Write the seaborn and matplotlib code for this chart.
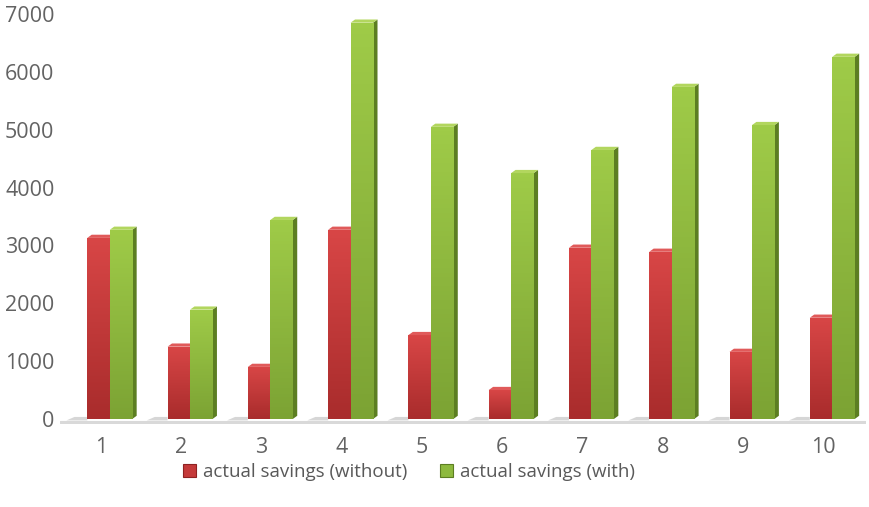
import numpy as np
import pandas as pd
import matplotlib
matplotlib.use("Agg")
import matplotlib.pyplot as plt
from matplotlib.patches import Polygon, Patch
from matplotlib.colors import LinearSegmentedColormap
import seaborn as sns

# Data
categories = ["1", "2", "3", "4", "5", "6", "7", "8", "9", "10"]
savings_without = [3130, 1250, 900, 3270, 1450, 500, 2960, 2890, 1160, 1750]
savings_with = [3270, 1890, 3440, 6850, 5050, 4250, 4650, 5740, 5080, 6260]
series_names = ["actual savings (without)", "actual savings (with)"]
y_ticks = [0, 1000, 2000, 3000, 4000, 5000, 6000, 7000]

df = pd.DataFrame({
    "case": categories * 2,
    "value": savings_without + savings_with,
    "series": [series_names[0]] * len(categories) + [series_names[1]] * len(categories),
})

sns.set_theme(style="white")
plt.rcParams["font.family"] = ["Open Sans", "DejaVu Sans"]

# Front / top / side shades per series
front_top = {series_names[0]: "#D84646", series_names[1]: "#9FCB48"}
front_bot = {series_names[0]: "#A92C2C", series_names[1]: "#7CA334"}
side_col = {series_names[0]: "#8E2222", series_names[1]: "#5C7E22"}
lid_col = {series_names[0]: "#E05A5A", series_names[1]: "#B2D65E"}
palette = {series_names[0]: "#C43A3A", series_names[1]: "#8DB93E"}

fig = plt.figure(figsize=(8.7, 5.07), dpi=100)
ax = fig.add_axes([60 / 870, (507 - 423.6) / 507, 806 / 870, (423.6 - 14) / 507])

sns.barplot(data=df, x="case", y="value", hue="series", order=categories,
            hue_order=series_names, palette=palette, width=0.56,
            saturation=1, legend=False, ax=ax, zorder=3)

shift = 0.11      # perspective offset of the columns
dx = 0.055        # depth of the side face (category units)
dy = 55           # depth of the top face (value units)

bars = list(ax.patches)
n = len(categories)
for i, p in enumerate(bars):
    s = series_names[i // n]
    p.set_x(p.get_x() + shift)
    x, w, h = p.get_x(), p.get_width(), p.get_height()
    z = 3 + i // n
    p.set_zorder(z)
    p.set_edgecolor("none")
    # vertical gradient on the front face
    cmap = LinearSegmentedColormap.from_list("g", [front_bot[s], front_top[s]])
    grad = np.linspace(0, 1, 64).reshape(-1, 1)
    im = ax.imshow(grad, cmap=cmap, extent=[x, x + w, 0, h], origin="lower",
                   aspect="auto", zorder=z + 0.1)
    im.set_clip_path(p)
    # right side face
    ax.add_patch(Polygon([(x + w, 0), (x + w + dx, dy), (x + w + dx, h + dy), (x + w, h)],
                         closed=True, facecolor=side_col[s], edgecolor="none", zorder=z + 0.05))
    # top face
    ax.add_patch(Polygon([(x, h), (x + dx, h + dy), (x + w + dx, h + dy), (x + w, h)],
                         closed=True, facecolor=lid_col[s], edgecolor="none", zorder=z + 0.2))
    # floor shadow on the left of each pair
    if i < n:
        ax.add_patch(Polygon([(x - 0.26, -25), (x - 0.16, 35), (x, 35), (x, -25)],
                             closed=True, facecolor="#A6A6A6", edgecolor="none",
                             alpha=0.45, zorder=2))
ax.set_xlim(-0.51, 9.53)
ax.set_ylim(-80, 7000)

# floor line
ax.axhline(-45, color="#D9D9D9", lw=2.2, zorder=1)

ax.set_yticks(y_ticks)
ax.set_yticklabels([str(t) for t in y_ticks])
ax.tick_params(axis="both", length=0, colors="#636363", labelsize=15.5)
ax.tick_params(axis="x", pad=10)
ax.tick_params(axis="y", pad=4)
ax.set_xlabel("")
ax.set_ylabel("")
for sp in ax.spines.values():
    sp.set_visible(False)
ax.grid(False)

handles = [Patch(facecolor=palette[s], edgecolor=side_col[s], lw=0.8) for s in series_names]
fig.legend(handles, series_names, loc="center", bbox_to_anchor=(409 / 870, 1 - 472 / 507),
           ncol=2, frameon=False, fontsize=13.5, labelcolor="#595959",
           handlelength=0.7, handleheight=0.7, handletextpad=0.4, columnspacing=1.7)

fig.savefig("out.png", dpi=100)
